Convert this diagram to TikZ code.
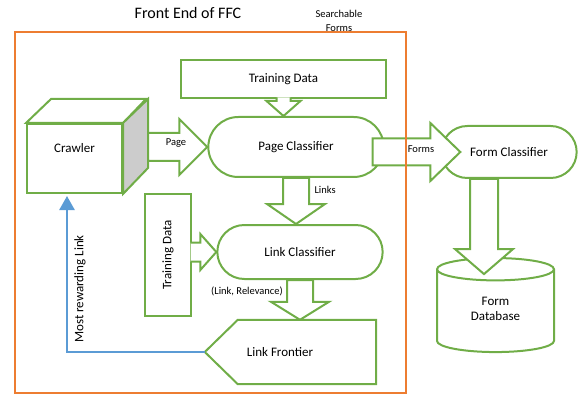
\documentclass[tikz,border=0pt]{standalone}
\usepackage{fontspec}
\setmainfont{Carlito}
\usepackage{tikz}
\usetikzlibrary{positioning, calc, arrows.meta, shapes.misc, shapes.geometric}
\definecolor{ffcgreen}{RGB}{112, 173, 71}
\definecolor{ffcorange}{RGB}{237, 125, 49}
\definecolor{ffcblue}{RGB}{91, 155, 213}
\definecolor{cubegray}{RGB}{204, 204, 204}
\newcommand{\mainsz}{\fontsize{13}{15.6}\selectfont}
\newcommand{\smallsz}{\fontsize{10.5}{14}\selectfont}
% block arrows: [closing], start, tip, shaft half, head half, head length
\newcommand{\blockright}[6][]{%
  \path[barrow] let \p1=#2, \p2=#3 in
    (\x1,\y2+#4pt) -- (\x2-#6pt,\y2+#4pt) -- (\x2-#6pt,\y2+#5pt) -- (\x2,\y2)
    -- (\x2-#6pt,\y2-#5pt) -- (\x2-#6pt,\y2-#4pt) -- (\x1,\y2-#4pt) #1;}
\newcommand{\blockdown}[6][]{%
  \path[barrow] let \p1=#2, \p2=#3 in
    (\x2-#4pt,\y1) -- (\x2-#4pt,\y2+#6pt) -- (\x2-#5pt,\y2+#6pt) -- (\x2,\y2)
    -- (\x2+#5pt,\y2+#6pt) -- (\x2+#4pt,\y2+#6pt) -- (\x2+#4pt,\y1) #1;}

\begin{document}
\begin{tikzpicture}[x=1pt, y=-1pt,
        gbox/.style={draw=ffcgreen, line width=2pt, fill=white,
            font=\mainsz, align=center},
        pill/.style={gbox, rounded rectangle},
        gline/.style={draw=ffcgreen, line width=2pt, line join=miter},
        barrow/.style={gline, fill=white},
        lbl/.style={font=\smallsz, align=center},
        frame/.style={draw=ffcorange, line width=2.5pt},
        retarr/.style={draw=ffcblue, line width=2.5pt,
            -{Triangle[length=14pt, width=15pt]}}
    ]
    \useasboundingbox (0,0) rectangle (582,396);

    % === Crawler (cube) ===
    \node[gbox, minimum width=95, minimum height=69, text depth=22pt] (crawler)
        at (74.5,158.5) {Crawler};
    \draw[gline, fill=white]
        (crawler.north west) -- ++(25,-24) -- ++(95,0) -- (crawler.north east) -- cycle;
    \draw[gline, fill=cubegray]
        (crawler.north east) -- ++(25,-24) -- ++(0,69) -- (crawler.south east) -- cycle;

    % === Classifiers ===
    \node[gbox, minimum width=205, minimum height=38] (tdtop) at (283.5,79) {Training Data};
    \node[pill, minimum width=182, minimum height=60] (page) at (296,147) {Page Classifier};
    \node[gbox, minimum width=46, minimum height=122] (tdleft) at (168,255)
        {\rotatebox{90}{Training Data}};
    \node[pill, minimum width=172, minimum height=54] (linkc) at (300,252) {Link Classifier};
    \node[font=\mainsz, minimum width=150, minimum height=64] (lf) at (280,352) {Link Frontier};
    \draw[gline] (lf.west) -- ($(lf.north west)+(33,0)$) -- ($(lf.north east)+(21,0)$)
        -- ($(lf.south east)+(21,0)$) -- ($(lf.south west)+(33,0)$) -- cycle;
    \node[pill, minimum width=142, minimum height=52] (formc) at (509,152) {Form Classifier};
    \node[gbox, cylinder, shape border rotate=90, aspect=0.4,
          minimum width=117, minimum height=94, text depth=8pt] (db) at (495.5,313)
        {Form\\Database};

    % === Block arrows ===
    \coordinate (tdtopin) at ($(tdtop.south)+(0,-1.5)$);
    \coordinate (tdleftin) at ($(tdleft.east)+(-1.5,0)$);
    \coordinate (cubeout) at ($(crawler.east)+(25,0)$);
    \coordinate (formsout) at ($(page.east)+(-12,0)$);
    \coordinate (formstip) at ($(formc.west)+(20,0)$);
    \coordinate (dbin) at ($(formc.south)+(-25,0)$);
    \coordinate (dbtip) at ($(db.north)+(0,17)$);
    \blockdown{(tdtopin)}{(tdtop.south |- page.north)}{7}{17}{15}
    \blockright{(tdleftin)}{(linkc.west)}{9.5}{18}{16}
    \blockright[-- cycle]{(cubeout)}{(page.west)}{14}{28}{28}
    \blockright[-- cycle]{(formsout)}{(formstip)}{13.5}{29}{30}
    \blockdown[-- cycle]{(page.south)}{(page.south |- linkc.north)}{13}{29}{20}
    \blockdown[-- cycle]{(linkc.south)}{(linkc.south |- lf.north)}{13}{29}{18}
    \blockdown[-- cycle]{(dbin)}{(dbin |- dbtip)}{14}{29}{25}

    % === Feedback to crawler ===
    \coordinate (cubein) at ($(crawler.south)+(-7.5,2)$);
    \draw[retarr] (lf.west) -| (cubein);
    \node[font=\mainsz, rotate=90] (mrl) at (80,289) {Most rewarding Link};

    % === Front end frame ===
    \node[frame, minimum width=391, minimum height=361] (ffc) at (210.5,212.5) {};
    \node[font=\fontsize{16}{19}\selectfont] (title) at (188,13) {Front End of FFC};
    \node[lbl] (sforms) at (339,21) {Searchable\\Forms};

    % === Arrow labels ===
    \node[lbl] (pagelbl) at (176,143) {Page};
    \node[lbl] (formslbl) at (421,149) {Forms};
    \node[lbl, anchor=west] (linkslbl) at (311,190) {Links};
    \node[lbl] (rellbl) at (247,291) {(Link, Relevance)};

\end{tikzpicture}
\end{document}
